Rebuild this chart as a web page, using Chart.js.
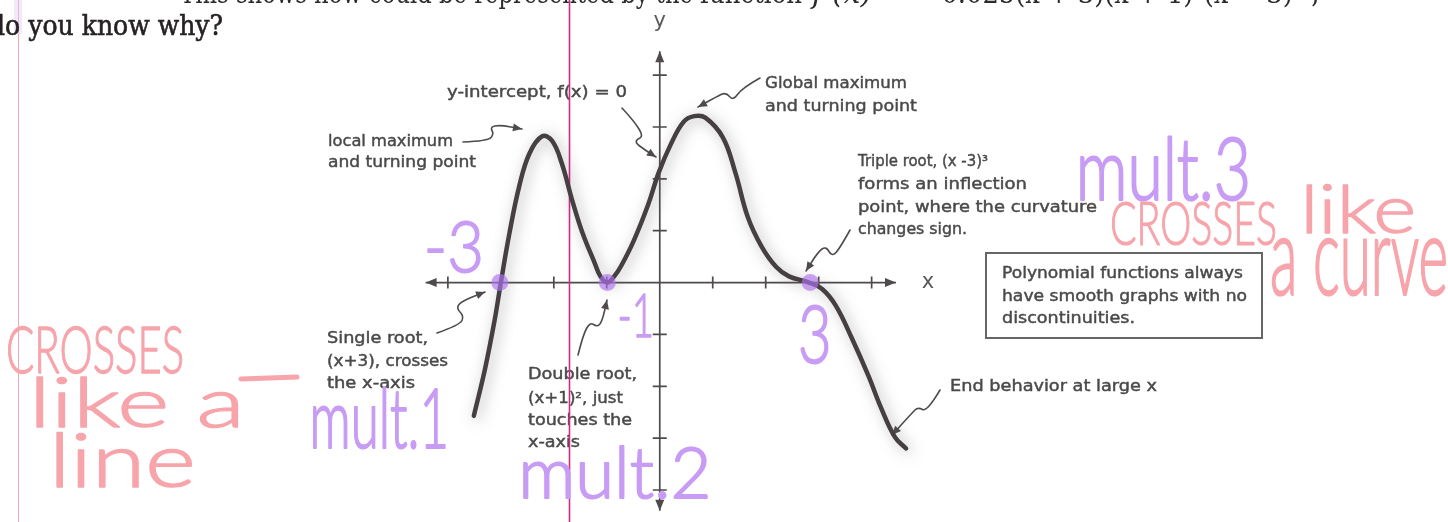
<!DOCTYPE html>
<html><head><meta charset="utf-8">
<script src="https://cdn.jsdelivr.net/npm/chart.js@4.4.1/dist/chart.umd.min.js"></script>
<style>html,body{margin:0;padding:0;background:#fff;overflow:hidden}canvas{display:block}</style>
</head><body>
<canvas id="c" width="1448" height="522"></canvas>
<script>
// ---- data ----
const curveX = [-3.51,-3.30,-3.12,-3.00,-2.84,-2.65,-2.46,-2.22,-2.03,-1.85,-1.66,-1.47,-1.23,-1.12,-0.99,-0.86,-0.73,-0.49,-0.22,-0.02,0.21,0.45,0.65,0.86,1.19,1.43,1.66,1.92,2.20,2.44,2.82,3.06,3.32,3.62,3.94,4.18,4.44,4.65];
const curveY = [-2.57,-1.67,-0.74,0.00,0.94,1.87,2.49,2.82,2.73,2.30,1.61,0.99,0.38,0.12,0.00,0.12,0.32,0.81,1.50,2.12,2.67,3.10,3.21,3.18,2.80,2.11,1.27,0.70,0.30,0.12,0.00,-0.12,-0.44,-1.06,-1.80,-2.42,-2.98,-3.20];
const rootX = [-3.02, -0.99, 2.84];
const rootY = [0, 0, 0];
const xTicks = [-4,-3,-2,-1,1,2,3,4];
const yTicks = [-4,-3,-2,-1,1,2,3,4];
const xAxisEnds = [-4.42, 4.46];
const yAxisEnds = [-4.40, 4.46];

const curvePts = curveX.map((x,i)=>({x, y: curveY[i]}));
const rootPts = rootX.map((x,i)=>({x, y: rootY[i]}));

// ---- helpers ----
function fitW(ctx, text, x, base, w, font, color, stroke){
  ctx.save(); ctx.font = font; ctx.fillStyle = color; ctx.textBaseline='alphabetic'; ctx.textAlign='left';
  const m = ctx.measureText(text).width;
  ctx.translate(x, base); ctx.scale(w/m, 1); ctx.fillText(text, 0, 0);
  if (stroke){ ctx.strokeStyle = color; ctx.lineWidth = stroke; ctx.strokeText(text, 0, 0); }
  ctx.restore();
}
function fitBox(ctx, text, x0, y0, x1, y1, font, color, stroke){
  ctx.save(); ctx.font = font; ctx.textBaseline='alphabetic'; ctx.textAlign='left';
  const m = ctx.measureText(text);
  const l = m.actualBoundingBoxLeft, r = m.actualBoundingBoxRight, a = m.actualBoundingBoxAscent, d = m.actualBoundingBoxDescent;
  ctx.translate(x0, y0); ctx.scale((x1-x0)/(l+r), (y1-y0)/(a+d));
  ctx.fillStyle = color; ctx.fillText(text, l, a);
  if (stroke){ ctx.strokeStyle = color; ctx.lineWidth = stroke; ctx.lineJoin='round'; ctx.strokeText(text, l, a); }
  ctx.restore();
}
function head(ctx, x, y, ang, len, hw){
  ctx.beginPath();
  ctx.moveTo(x, y);
  ctx.lineTo(x - len*Math.cos(ang) + hw*Math.sin(ang), y - len*Math.sin(ang) - hw*Math.cos(ang));
  ctx.lineTo(x - len*Math.cos(ang) - hw*Math.sin(ang), y - len*Math.sin(ang) + hw*Math.cos(ang));
  ctx.closePath(); ctx.fill();
}
function squiggle(ctx, pts){
  ctx.beginPath(); ctx.moveTo(pts[0][0], pts[0][1]);
  for (let i=1;i<pts.length-1;i++){
    const mx=(pts[i][0]+pts[i+1][0])/2, my=(pts[i][1]+pts[i+1][1])/2;
    ctx.quadraticCurveTo(pts[i][0], pts[i][1], mx, my);
  }
  const n=pts.length; ctx.lineTo(pts[n-1][0], pts[n-1][1]); ctx.stroke();
  const ang=Math.atan2(pts[n-1][1]-pts[n-2][1], pts[n-1][0]-pts[n-2][0]);
  head(ctx, pts[n-1][0], pts[n-1][1], ang, 9, 4);
}

const INK = '#4f4b4c';
const PURPLE = '#c89cf4';
const PINK = '#f7a4ab';
const PRINT = '16px "DejaVu Sans"';

const labels = [
  ['y-intercept, f(x) = 0', 447, 97, 180],
  ['local maximum', 328, 146, 125],
  ['and turning point', 328, 167, 148],
  ['Global maximum', 765, 88, 142],
  ['and turning point', 765, 111, 152],
  ['Triple root, (x -3)\u00B3', 858, 166, 130],
  ['forms an inflection', 858, 189, 169],
  ['point, where the curvature', 858, 212, 239],
  ['changes sign.', 858, 234, 109],
  ['Polynomial functions always', 1002, 278, 241],
  ['have smooth graphs with no', 1002, 301, 245],
  ['discontinuities.', 1002, 323, 133],
  ['Single root,', 327, 343, 101],
  ['(x+3), crosses', 327, 366, 121],
  ['the x-axis', 327, 388, 88],
  ['Double root,', 528, 379, 109],
  ['(x+1)\u00B2, just', 528, 403, 95],
  ['touches the', 528, 425, 104],
  ['x-axis', 528, 447, 52],
  ['End behavior at large x', 950, 391, 207]
];
const arrows = [
  [[463,142],[488,141],[494,134],[490,127],[500,125],[522,129]],
  [[622,108],[647,135],[633,141],[645,150],[656,157]],
  [[760,78],[742,88],[733,101],[726,92],[716,97],[698,107]],
  [[850,230],[840,248],[832,257],[826,246],[818,252],[806,271]],
  [[437,333],[460,325],[464,316],[456,308],[462,301],[485,292]],
  [[578,355],[583,335],[590,322],[597,327],[602,322],[607,300]],
  [[940,390],[927,412],[918,407],[912,413],[892,435]]
];

const deco = {
  id: 'deco',
  beforeDatasetsDraw(chart){
    const ctx = chart.ctx, xs = chart.scales.x, ys = chart.scales.y;
    ctx.save();
    // page margin line
    ctx.strokeStyle = 'rgba(243,150,175,0.85)'; ctx.lineWidth = 1;
    ctx.beginPath(); ctx.moveTo(18.5, 0); ctx.lineTo(18.5, 522); ctx.stroke();
    ctx.fillStyle = 'rgba(225,205,245,0.45)'; ctx.fillRect(14, 0, 8, 34);
    // top text (cut off by the page edge)
    const SER = '27px "DejaVu Serif"';
    fitW(ctx, 'This shows how could be represented by the', 180, 3, 513, SER, '#2e2a2b');
    fitW(ctx, 'function', 700, 3, 102, SER, '#2e2a2b');
    fitW(ctx, 'f (x)', 812, 3, 60, 'italic 27px "DejaVu Serif"', '#2e2a2b');
    fitW(ctx, '= \u22120.025(x + 3)(x + 1)\u00B2(x \u2212 3)\u00B3 ;', 890, 3, 430, SER, '#2e2a2b');
    fitW(ctx, 'do you know why?', -11, 35, 234, '27px "DejaVu Serif"', '#262223', 0.6);
    // printed labels
    labels.forEach(l => fitW(ctx, l[0], l[1], l[2], l[3], PRINT, '#4b494a', 0.45));
    // box
    ctx.strokeStyle = '#666'; ctx.lineWidth = 2;
    ctx.strokeRect(986, 253, 276, 85);
    // axes
    const X0 = xs.getPixelForValue(0), Y0 = ys.getPixelForValue(0);
    ctx.strokeStyle = INK; ctx.fillStyle = INK; ctx.lineWidth = 1.7;
    const xa = xs.getPixelForValue(xAxisEnds[0]), xb = xs.getPixelForValue(xAxisEnds[1]);
    const ya = ys.getPixelForValue(yAxisEnds[0]), yb = ys.getPixelForValue(yAxisEnds[1]);
    ctx.beginPath(); ctx.moveTo(xa, Y0); ctx.lineTo(xb, Y0); ctx.moveTo(X0, ya); ctx.lineTo(X0, yb); ctx.stroke();
    head(ctx, xa, Y0, Math.PI, 11, 4.5); head(ctx, xb, Y0, 0, 11, 4.5);
    head(ctx, X0, yb, -Math.PI/2, 11, 4.5); head(ctx, X0, ya, Math.PI/2, 11, 4.5);
    ctx.beginPath();
    xTicks.forEach(t => { const p = xs.getPixelForValue(t); ctx.moveTo(p, Y0-6); ctx.lineTo(p, Y0+6); });
    yTicks.forEach(t => { const p = ys.getPixelForValue(t); ctx.moveTo(X0-7, p); ctx.lineTo(X0+7, p); });
    ctx.stroke();
    ctx.font = '21px "DejaVu Sans"'; ctx.textAlign = 'center'; ctx.textBaseline = 'middle'; ctx.fillStyle = '#5a5a5a';
    ctx.fillText('x', xb + 32, Y0); ctx.fillText('y', X0, yb - 30);
    // arrows
    ctx.strokeStyle = INK; ctx.fillStyle = INK; ctx.lineWidth = 1.6; ctx.lineJoin = 'round'; ctx.lineCap = 'round';
    arrows.forEach(a => squiggle(ctx, a));
    // magenta line
    ctx.strokeStyle = '#d3288a'; ctx.lineWidth = 1.6;
    ctx.beginPath(); ctx.moveTo(569.5, 0); ctx.lineTo(569.5, 522); ctx.stroke();
    ctx.restore();
  },
  beforeDatasetDraw(chart, args){
    if (args.index === 0){
      const ctx = chart.ctx; ctx.save();
      ctx.shadowColor = 'rgba(90,90,90,0.5)'; ctx.shadowBlur = 14; ctx.shadowOffsetX = 3; ctx.shadowOffsetY = 2;
    }
  },
  afterDatasetDraw(chart, args){
    if (args.index === 0) chart.ctx.restore();
  },
  afterDatasetsDraw(chart){
    const ctx = chart.ctx;
    const HF = '300 60px Lato';
    // purple handwriting
    fitBox(ctx, '-3', 428, 222, 480, 272, HF, PURPLE, 1.5);
    fitBox(ctx, '-1', 620, 294, 651, 337, HF, PURPLE, 1.5);
    fitBox(ctx, '3', 801, 307, 828, 363, HF, PURPLE, 1.5);
    fitBox(ctx, 'mult.1', 313, 388, 445, 448, HF, PURPLE, 1.5);
    fitBox(ctx, 'mult.2', 523, 447, 707, 498, HF, PURPLE, 1.5);
    fitBox(ctx, 'mult.3', 1080, 138, 1247, 200, HF, PURPLE, 1.5);
    // pink handwriting
    fitBox(ctx, 'CROSSES', 8, 327, 182, 373, HF, PINK, 1.2);
    fitBox(ctx, 'like a', 37, 377, 238, 427, HF, PINK, 1.2);
    fitBox(ctx, 'line', 57, 433, 192, 487, HF, PINK, 1.2);
    fitBox(ctx, 'CROSSES', 1112, 202, 1275, 245, HF, PINK, 1.2);
    fitBox(ctx, 'like', 1307, 185, 1413, 233, HF, PINK, 1.2);
    fitBox(ctx, 'a curve', 1272, 240, 1446, 295, HF, PINK, 1.2);
    ctx.save(); ctx.strokeStyle = PINK; ctx.lineWidth = 5; ctx.lineCap = 'round';
    ctx.beginPath(); ctx.moveTo(241, 379); ctx.lineTo(297, 377); ctx.stroke(); ctx.restore();
  }
};

new Chart(document.getElementById('c'), {
  type: 'line',
  data: { datasets: [
    { data: curvePts, borderColor: '#463f42', borderWidth: 4.5, pointRadius: 0, tension: 0.4,
      borderCapStyle: 'round', borderJoinStyle: 'round', fill: false, order: 1 },
    { type: 'scatter', data: rootPts, pointRadius: 8.5, backgroundColor: 'rgba(175,115,238,0.65)', borderWidth: 0, showLine: false, order: 0 }
  ]},
  options: {
    responsive: false, animation: false, events: [],
    layout: { padding: 0 },
    scales: {
      x: { type: 'linear', min: -659/53.6, max: (1448-659)/53.6, display: false },
      y: { type: 'linear', min: (283.3-522)/53.6, max: 283.3/53.6, display: false }
    },
    plugins: { legend: { display: false }, tooltip: { enabled: false } }
  },
  plugins: [deco]
});
</script>
</body></html>
